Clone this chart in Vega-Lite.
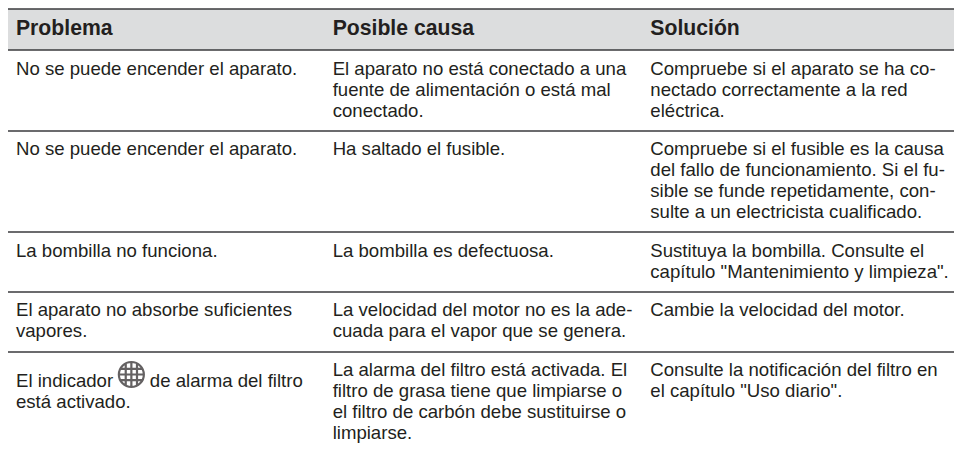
{"$schema":"https://vega.github.io/schema/vega-lite/v6.json","width":955,"height":450,"autosize":{"type":"fit","contains":"padding"},"padding":0,"background":"#ffffff","view":{"stroke":null},
"datasets":{
"band":[{"from":8,"to":955,"top":9,"bottom":50}],
"seps":[{"from":8,"to":955,"pos":9},{"from":8,"to":955,"pos":50},{"from":8,"to":955,"pos":131},{"from":8,"to":955,"pos":232},{"from":8,"to":955,"pos":292},{"from":8,"to":955,"pos":352}],
"icon":[{"col":131.5,"line":374.5}],
"head":[{"col":16,"line":35,"t":"Problema"},{"col":333,"line":35,"t":"Posible causa"},{"col":651,"line":35,"t":"Solución"}],
"body":[
{"col":16,"line":75,"t":"No se puede encender el aparato."},
{"col":333,"line":75,"t":"El aparato no está conectado a una"},
{"col":333,"line":96,"t":"fuente de alimentación o está mal"},
{"col":333,"line":117,"t":"conectado."},
{"col":651,"line":75,"t":"Compruebe si el aparato se ha co-"},
{"col":651,"line":96,"t":"nectado correctamente a la red"},
{"col":651,"line":117,"t":"eléctrica."},
{"col":16,"line":155,"t":"No se puede encender el aparato."},
{"col":333,"line":155,"t":"Ha saltado el fusible."},
{"col":651,"line":155,"t":"Compruebe si el fusible es la causa"},
{"col":651,"line":176,"t":"del fallo de funcionamiento. Si el fu-"},
{"col":651,"line":197,"t":"sible se funde repetidamente, con-"},
{"col":651,"line":218,"t":"sulte a un electricista cualificado."},
{"col":16,"line":257,"t":"La bombilla no funciona."},
{"col":333,"line":257,"t":"La bombilla es defectuosa."},
{"col":651,"line":257,"t":"Sustituya la bombilla. Consulte el"},
{"col":651,"line":278,"t":"capítulo \"Mantenimiento y limpieza\"."},
{"col":16,"line":316,"t":"El aparato no absorbe suficientes"},
{"col":16,"line":337,"t":"vapores."},
{"col":333,"line":316,"t":"La velocidad del motor no es la ade-"},
{"col":333,"line":337,"t":"cuada para el vapor que se genera."},
{"col":651,"line":316,"t":"Cambie la velocidad del motor."},
{"col":16,"line":387,"t":"El indicador"},
{"col":150,"line":387,"t":"de alarma del filtro"},
{"col":16,"line":408,"t":"está activado."},
{"col":333,"line":376,"t":"La alarma del filtro está activada. El"},
{"col":333,"line":397,"t":"filtro de grasa tiene que limpiarse o"},
{"col":333,"line":418,"t":"el filtro de carbón debe sustituirse o"},
{"col":333,"line":439,"t":"limpiarse."},
{"col":651,"line":376,"t":"Consulte la notificación del filtro en"},
{"col":651,"line":397,"t":"el capítulo \"Uso diario\"."}
]},
"layer":[
{"data":{"name":"band"},"mark":{"type":"rect","fill":"#dcddde"},"encoding":{"x":{"field":"from","type":"quantitative","scale":{"domain":[0,955]},"axis":null},"x2":{"field":"to"},"y":{"field":"top","type":"quantitative","scale":{"domain":[450,0]},"axis":null},"y2":{"field":"bottom"}}},
{"data":{"name":"seps"},"mark":{"type":"rule","stroke":"#3a3a3c","strokeWidth":1.6},"encoding":{"x":{"field":"from","type":"quantitative","scale":{"domain":[0,955]},"axis":null},"x2":{"field":"to"},"y":{"field":"pos","type":"quantitative","scale":{"domain":[450,0]},"axis":null}}},
{"data":{"name":"head"},"mark":{"type":"text","align":"left","baseline":"alphabetic","font":"Liberation Sans","fontWeight":"bold","fontSize":21.2,"fill":"#231f20"},"encoding":{"x":{"field":"col","type":"quantitative","scale":{"domain":[0,955]},"axis":null},"y":{"field":"line","type":"quantitative","scale":{"domain":[450,0]},"axis":null},"text":{"field":"t"}}},
{"data":{"name":"body"},"mark":{"type":"text","align":"left","baseline":"alphabetic","font":"Liberation Sans","fontSize":18.6,"fill":"#231f20"},"encoding":{"x":{"field":"col","type":"quantitative","scale":{"domain":[0,955]},"axis":null},"y":{"field":"line","type":"quantitative","scale":{"domain":[450,0]},"axis":null},"text":{"field":"t"}}},
{"data":{"name":"icon"},"mark":{"type":"point","filled":false,"stroke":"#231f20","strokeWidth":2.2,"size":625,"shape":"M-1 0A1 1 0 1 1 1 0A1 1 0 1 1 -1 0ZM-0.45 -0.89L-0.45 0.89M0 -1L0 1M0.45 -0.89L0.45 0.89M-0.89 -0.45L0.89 -0.45M-1 0L1 0M-0.89 0.45L0.89 0.45"},"encoding":{"x":{"field":"col","type":"quantitative","scale":{"domain":[0,955]},"axis":null},"y":{"field":"line","type":"quantitative","scale":{"domain":[450,0]},"axis":null}}}
],
"config":{"style":{"cell":{"stroke":null}}}}
